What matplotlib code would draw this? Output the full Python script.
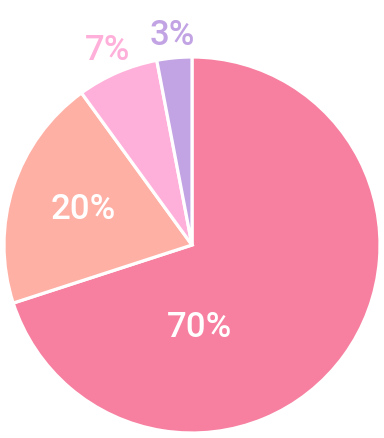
import matplotlib
matplotlib.use("Agg")
import matplotlib.pyplot as plt
import numpy as np

labels = ["70%", "20%", "7%", "3%"]
values = [70, 20, 7, 3]
colors = ["#F77FA0", "#FFB0A5", "#FFB0DA", "#C2A3E3"]
text_colors = ["white", "white", "#FFB0DA", "#C2A3E3"]

fig = plt.figure(figsize=(3.84, 4.38), dpi=100)
W, H = 384, 438
cx, cy, r = 192, 245, 188
ax = fig.add_axes([(cx - r) / W, (H - cy - r) / H, 2 * r / W, 2 * r / H])

wedges, _ = ax.pie(values, colors=colors, startangle=90, counterclock=False,
                   radius=1, wedgeprops=dict(edgecolor="white", linewidth=2.3))

# label distances (relative to radius) per slice
dists = [0.6, 0.61, 1.13, 1.12]
for w, lab, tc, d in zip(wedges, labels, text_colors, dists):
    ang = np.deg2rad((w.theta1 + w.theta2) / 2)
    x, y = d * np.cos(ang), d * np.sin(ang)
    if lab == "70%":
        x, y = 0.04, -0.44
    ax.text(x, y, lab, ha="center", va="center", color=tc, fontsize=25,
            family="Roboto", fontweight="medium")

ax.set_xlim(-1, 1)
ax.set_ylim(-1, 1)
ax.set_aspect("equal")
ax.axis("off")

fig.savefig("out.png", dpi=100)
